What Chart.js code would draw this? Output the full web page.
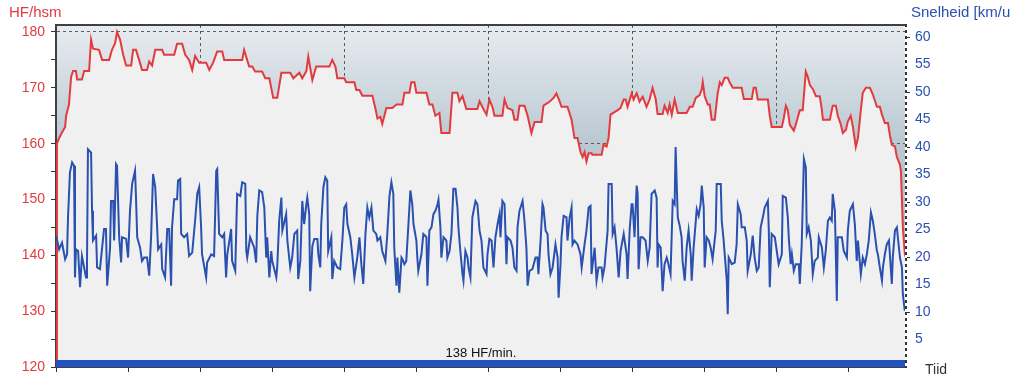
<!DOCTYPE html>
<html>
<head>
<meta charset="utf-8">
<title>HF / Snelheid</title>
<script src="https://cdn.jsdelivr.net/npm/chart.js@4.4.1/dist/chart.umd.min.js"></script>
<style>
  html, body { margin: 0; padding: 0; background: #fff; }
  #wrap { width: 1010px; height: 375px; }
</style>
</head>
<body>
<div id="wrap"><canvas id="hr-chart" width="1010" height="375"></canvas></div>
<script>
// time in seconds since start
const hrTime = [
  0, 4, 13, 25, 38, 42, 54, 63, 71, 83,
  88, 108, 117, 138, 142, 146, 154, 179, 192, 221,
  233, 246, 254, 267, 279, 292, 313, 321, 333, 346,
  358, 379, 388, 400, 413, 442, 450, 492, 504, 525,
  538, 554, 567, 579, 596, 625, 638, 654, 671, 692,
  700, 775, 783, 804, 817, 829, 858, 871, 888, 904,
  921, 938, 975, 988, 1013, 1025, 1042, 1050, 1067, 1083,
  1138, 1150, 1163, 1171, 1200, 1208, 1242, 1250, 1263, 1275,
  1317, 1329, 1338, 1350, 1358, 1375, 1400, 1417, 1442, 1450,
  1471, 1479, 1492, 1500, 1542, 1554, 1567, 1579, 1596, 1604,
  1638, 1650, 1671, 1679, 1692, 1708, 1754, 1763, 1779, 1792,
  1804, 1817, 1825, 1858, 1867, 1879, 1900, 1908, 1921, 1929,
  1950, 1963, 1979, 1992, 2021, 2029, 2054, 2071, 2083, 2096,
  2104, 2129, 2146, 2158, 2171, 2183, 2192, 2200, 2208, 2217,
  2229, 2233, 2271, 2279, 2292, 2300, 2308, 2338, 2350, 2363,
  2371, 2379, 2396, 2404, 2417, 2429, 2442, 2458, 2471, 2483,
  2496, 2504, 2525, 2533, 2546, 2554, 2563, 2575, 2588, 2625,
  2638, 2650, 2663, 2679, 2688, 2692, 2700, 2713, 2721, 2729,
  2742, 2754, 2763, 2771, 2783, 2796, 2804, 2817, 2854, 2863,
  2896, 2904, 2913, 2921, 2963, 2971, 2979, 3021, 3029, 3038,
  3046, 3054, 3071, 3079, 3096, 3108, 3121, 3129, 3138, 3150,
  3163, 3179, 3188, 3192, 3221, 3233, 3246, 3254, 3267, 3275,
  3288, 3296, 3308, 3317, 3329, 3338, 3350, 3358, 3371, 3388,
  3400, 3417, 3429, 3438, 3450, 3463, 3471, 3479, 3492, 3500,
  3513, 3517, 3521, 3525, 3533, 3538
];
const hrValues = [
  120, 160, 161, 162, 163, 165, 167, 172, 173, 173,
  171.5, 171.5, 173, 173, 176, 178.6, 177, 176.8, 175, 175,
  176.8, 178, 180, 178.6, 176, 174, 174, 176.8, 176.8, 175,
  173.2, 173.2, 174.7, 174, 176.8, 176.8, 175.9, 175.9, 177.9, 177.9,
  175.9, 175, 173.2, 175.7, 174.5, 174.5, 173.2, 174.5, 176.5, 176.5,
  175, 175, 176.8, 173.8, 173.8, 172.9, 172.9, 171.7, 171.7, 168.2,
  168.2, 172.7, 172.7, 171.7, 172.7, 171.7, 173, 175.6, 171.4, 173.8,
  173.8, 175, 173.8, 171.7, 171.7, 171, 171, 169.6, 169.6, 168.6,
  168.6, 166.4, 164.5, 164.8, 163.5, 166.4, 166.4, 167, 167, 169.1,
  169.1, 171, 171, 169.1, 169.1, 167, 167, 165, 165.5, 161.9,
  161.9, 169.1, 169.1, 167.6, 168.5, 166.2, 166.2, 167.6, 166.2, 165.2,
  167.9, 166.5, 165, 165, 167.9, 166.4, 166, 164.3, 164.3, 166.8,
  166.8, 165, 161.9, 163.9, 163.9, 166.8, 167.5, 168.2, 169, 167.6,
  166.6, 166.6, 164.3, 161, 161, 158.5, 157.6, 158.5, 156.8, 158.3,
  158.3, 158, 158, 159.8, 159.5, 161, 165.2, 166, 166.4, 167.9,
  167.9, 166.6, 169, 167.9, 169, 167.5, 168.4, 166.6, 167.9, 170,
  168, 165.3, 165.3, 166.8, 165.5, 167, 165.2, 167.9, 165.5, 165.5,
  166.6, 166.6, 168.2, 168.7, 169.8, 171, 168.5, 167, 167, 164.3,
  164.3, 169, 171, 170.5, 171.8, 171.8, 171, 170, 170, 168,
  168, 170, 170, 167.9, 167.9, 165, 163, 163, 164.5, 166.8,
  166, 163.4, 162.3, 163.4, 166, 166, 172.9, 172, 170.5, 169.8,
  168.5, 168.5, 166, 164.3, 164.3, 166.8, 166.8, 165, 163.4, 161.9,
  162.5, 164, 165, 163, 159.4, 161, 166, 169.1, 170, 170,
  168.8, 166.6, 166.6, 165.2, 163.7, 163.7, 161.5, 159.8, 159.5, 157.6,
  156.2, 155, 150, 145, 140.3, 139.5
];

const speedTime = [
  0, 13, 25, 38, 46, 50, 58, 67, 75, 79,
  83, 92, 100, 108, 125, 129, 133, 146, 150, 154,
  167, 171, 183, 192, 200, 208, 213, 225, 229, 238,
  242, 250, 254, 263, 271, 275, 292, 300, 308, 317,
  329, 333, 338, 350, 358, 367, 379, 388, 396, 404,
  413, 421, 425, 438, 442, 454, 463, 471, 479, 483,
  492, 504, 508, 517, 521, 533, 546, 554, 567, 579,
  588, 596, 604, 608, 625, 629, 646, 658, 667, 671,
  679, 692, 700, 708, 713, 729, 733, 746, 754, 767,
  775, 788, 792, 796, 808, 825, 833, 838, 846, 858,
  867, 875, 879, 888, 896, 900, 917, 921, 929, 938,
  942, 958, 963, 975, 983, 992, 1004, 1008, 1017, 1025,
  1033, 1042, 1046, 1054, 1058, 1067, 1075, 1088, 1092, 1100,
  1104, 1113, 1121, 1129, 1133, 1146, 1150, 1158, 1171, 1183,
  1192, 1200, 1208, 1213, 1225, 1233, 1242, 1254, 1263, 1271,
  1279, 1288, 1296, 1304, 1313, 1321, 1333, 1338, 1350, 1358,
  1371, 1379, 1388, 1396, 1404, 1408, 1417, 1421, 1429, 1438,
  1442, 1450, 1458, 1467, 1475, 1483, 1488, 1500, 1504, 1508,
  1521, 1529, 1542, 1546, 1554, 1563, 1571, 1579, 1588, 1592,
  1600, 1604, 1613, 1625, 1629, 1638, 1646, 1654, 1663, 1671,
  1675, 1683, 1692, 1696, 1704, 1713, 1717, 1725, 1733, 1746,
  1754, 1763, 1771, 1779, 1792, 1796, 1804, 1813, 1821, 1829,
  1838, 1846, 1850, 1858, 1867, 1875, 1879, 1892, 1900, 1908,
  1917, 1921, 1929, 1942, 1950, 1958, 1963, 1971, 1983, 1996,
  2004, 2008, 2017, 2025, 2029, 2038, 2046, 2050, 2058, 2067,
  2079, 2088, 2092, 2100, 2104, 2113, 2125, 2129, 2138, 2146,
  2150, 2158, 2171, 2183, 2188, 2200, 2208, 2217, 2225, 2229,
  2242, 2250, 2258, 2271, 2275, 2283, 2296, 2300, 2313, 2317,
  2325, 2333, 2342, 2350, 2358, 2363, 2375, 2379, 2388, 2396,
  2400, 2408, 2417, 2421, 2425, 2433, 2442, 2454, 2463, 2471,
  2479, 2492, 2500, 2504, 2508, 2517, 2525, 2533, 2542, 2546,
  2558, 2567, 2575, 2579, 2588, 2596, 2604, 2608, 2617, 2625,
  2633, 2642, 2646, 2654, 2667, 2675, 2683, 2688, 2696, 2700,
  2708, 2717, 2725, 2733, 2746, 2750, 2767, 2771, 2779, 2792,
  2796, 2800, 2813, 2825, 2833, 2838, 2850, 2854, 2867, 2875,
  2879, 2892, 2900, 2908, 2917, 2925, 2933, 2942, 2950, 2963,
  2967, 2971, 2979, 2992, 3004, 3008, 3021, 3025, 3038, 3046,
  3050, 3058, 3063, 3071, 3079, 3092, 3096, 3104, 3113, 3121,
  3125, 3133, 3142, 3150, 3158, 3171, 3175, 3188, 3196, 3204,
  3213, 3221, 3229, 3233, 3242, 3250, 3254, 3271, 3279, 3292,
  3296, 3304, 3317, 3325, 3333, 3338, 3350, 3358, 3367, 3375,
  3383, 3392, 3400, 3408, 3417, 3421, 3429, 3438, 3442, 3450,
  3458, 3467, 3479, 3483, 3492, 3500, 3504, 3513, 3521, 3525,
  3533
];
const speedValues = [
  23.9, 21.4, 22.6, 19.6, 20.5, 27.2, 35.4, 37.2, 36.6, 16.3,
  21.4, 21.1, 14.5, 20.2, 16.3, 18.7, 39.6, 39.0, 28.4, 23.0,
  23.9, 18.1, 17.8, 21.7, 25.1, 25.1, 14.8, 21.7, 30.2, 30.2,
  23.0, 36.9, 36.6, 23.6, 19.0, 23.6, 23.3, 19.9, 28.4, 33.3,
  35.7, 30.8, 23.6, 21.7, 19.3, 19.9, 19.9, 16.6, 23.9, 35.1,
  32.7, 25.4, 21.4, 22.3, 17.8, 16.3, 25.1, 25.1, 14.8, 25.4,
  30.5, 30.5, 33.9, 34.2, 24.2, 23.6, 24.2, 20.2, 20.8, 26.6,
  31.5, 32.7, 25.4, 20.5, 16.3, 19.0, 20.5, 20.2, 35.7, 36.0,
  24.2, 23.6, 24.2, 16.3, 20.5, 25.1, 19.3, 17.5, 31.5, 31.1,
  33.6, 33.3, 21.1, 19.9, 23.6, 21.7, 19.0, 27.5, 32.1, 31.8,
  29.0, 19.9, 23.6, 16.3, 21.1, 19.3, 16.3, 18.4, 26.6, 30.8,
  24.8, 27.8, 23.0, 18.1, 19.9, 24.2, 24.8, 16.0, 19.3, 30.2,
  26.0, 29.6, 30.8, 27.8, 13.8, 22.0, 23.3, 23.3, 20.5, 18.1,
  26.0, 32.7, 34.5, 33.9, 21.1, 23.6, 16.0, 19.3, 18.1, 17.8,
  23.0, 29.0, 29.6, 26.0, 23.6, 20.5, 16.3, 19.9, 23.6, 18.7,
  15.1, 24.2, 29.0, 27.2, 29.0, 24.8, 24.2, 23.0, 23.6, 21.1,
  19.3, 24.2, 31.1, 33.6, 31.5, 21.7, 14.8, 19.9, 13.5, 19.9,
  19.6, 18.7, 19.3, 26.0, 32.1, 29.6, 26.0, 23.0, 19.9, 17.5,
  20.5, 24.2, 23.6, 14.8, 24.8, 25.4, 27.8, 28.4, 29.6, 30.4,
  25.4, 19.9, 23.6, 23.0, 19.9, 21.1, 24.2, 32.4, 32.4, 29.0,
  25.4, 21.1, 16.9, 15.7, 21.1, 19.9, 18.1, 16.3, 27.2, 30.2,
  29.6, 24.8, 23.0, 18.1, 16.9, 20.5, 23.3, 23.0, 18.1, 23.6,
  26.0, 27.8, 23.6, 30.2, 29.6, 18.7, 23.6, 23.0, 21.7, 18.1,
  17.5, 25.4, 28.4, 30.2, 26.6, 21.7, 14.8, 17.5, 17.8, 19.9,
  19.9, 16.9, 23.0, 29.6, 29.0, 24.8, 24.2, 20.5, 16.9, 18.1,
  22.3, 19.9, 12.6, 18.7, 23.6, 27.5, 27.2, 23.0, 27.2, 29.0,
  22.3, 23.0, 22.3, 20.5, 18.1, 22.3, 24.8, 29.0, 29.3, 16.9,
  21.7, 15.7, 18.1, 18.1, 16.3, 18.1, 24.8, 33.3, 33.3, 24.2,
  25.4, 21.7, 16.3, 21.1, 23.0, 24.2, 20.5, 16.0, 25.1, 29.6,
  29.6, 23.6, 33.0, 31.5, 17.8, 23.6, 23.6, 23.0, 19.3, 21.7,
  31.5, 32.1, 30.8, 18.1, 22.3, 21.7, 13.8, 18.7, 19.9, 19.3,
  16.9, 30.2, 29.6, 40.0, 27.2, 25.7, 23.6, 19.3, 15.7, 21.7,
  24.8, 20.5, 15.7, 21.7, 28.7, 27.5, 29.6, 33.0, 29.0, 18.1,
  23.6, 23.0, 21.7, 19.6, 24.8, 33.3, 33.3, 26.6, 23.0, 15.7,
  9.6, 19.9, 18.7, 19.0, 22.3, 29.6, 27.8, 25.4, 25.4, 23.0,
  17.5, 20.5, 23.9, 19.9, 17.5, 18.1, 25.4, 27.2, 29.0, 30.2,
  24.8, 14.5, 24.2, 23.6, 19.9, 18.7, 20.5, 31.1, 30.8, 27.2,
  23.6, 18.7, 20.5, 17.5, 18.7, 18.7, 15.1, 22.3, 37.8, 36.3,
  24.2, 25.4, 23.0, 16.9, 19.3, 19.9, 23.6, 21.7, 18.1, 21.1,
  26.6, 27.2, 26.6, 31.5, 28.4, 12.0, 23.6, 23.6, 21.1, 19.9,
  24.8, 28.4, 29.6, 26.0, 19.3, 23.0, 16.9, 19.9, 18.7, 20.5,
  23.0, 28.1, 26.6, 24.2, 21.1, 20.5, 18.1, 15.7, 18.1, 20.5,
  22.3, 23.0, 15.1, 19.9, 24.8, 25.4, 23.6, 19.9, 18.1, 13.2,
  10.2
];

const hrTicks = [120, 125, 130, 135, 140, 145, 150, 155, 160, 165, 170, 175, 180];
const speedTicks = [5, 10, 15, 20, 25, 30, 35, 40, 45, 50, 55, 60];
const timeTicks = [0, 300, 600, 900, 1200, 1500, 1800, 2100, 2400, 2700, 3000, 3300];

const avgHr = 138;
const avgHrUnit = 'HF/min.';
const hrAxisTitle = 'HF/hsm';
const speedAxisTitle = 'Snelheid [km/uur]';
const timeAxisTitle = 'Tiid';

const RED = '#e23b3f';
const BLUE = '#2a50b0';
const FONT = '"Liberation Sans", Arial, sans-serif';

Chart.defaults.font.family = FONT;

// background gradient, average band and the loose texts
const chartDecor = {
  id: 'chartDecor',
  beforeDraw(chart) {
    const { ctx, chartArea: a } = chart;
    const g = ctx.createLinearGradient(0, a.top, 0, a.bottom);
    g.addColorStop(0, '#e8ecf1');
    g.addColorStop(0.35, '#b9c8d1');
    g.addColorStop(1, '#a9bac5');
    ctx.save();
    ctx.fillStyle = g;
    ctx.fillRect(a.left, a.top, a.right - a.left, a.bottom - a.top);
    ctx.restore();
  },
  afterDatasetsDraw(chart) {
    const { ctx, chartArea: a } = chart;
    ctx.save();
    ctx.fillStyle = '#2152c2';
    ctx.fillRect(a.left, a.bottom - 7, a.right - a.left, 7);
    ctx.fillStyle = '#111';
    ctx.font = '13px ' + FONT;
    ctx.textAlign = 'center';
    ctx.fillText(avgHr + ' ' + avgHrUnit, (a.left + a.right) / 2, a.bottom - 10);
    ctx.restore();
  },
  afterDraw(chart) {
    const { ctx, chartArea: a } = chart;
    ctx.save();
    // top frame
    ctx.fillStyle = '#404040';
    ctx.fillRect(a.left - 1, a.top - 1, a.right - a.left + 1, 2);
    // right frame, dashed
    ctx.strokeStyle = '#fff';
    ctx.lineWidth = 2;
    ctx.beginPath();
    ctx.moveTo(a.right, a.top - 1);
    ctx.lineTo(a.right, a.bottom + 1);
    ctx.stroke();
    ctx.strokeStyle = '#333';
    ctx.setLineDash([3, 3]);
    ctx.stroke();
    ctx.setLineDash([]);

    ctx.font = '15px ' + FONT;
    ctx.textAlign = 'left';
    ctx.fillStyle = RED;
    ctx.fillText(hrAxisTitle, 9, 17);
    ctx.fillStyle = BLUE;
    ctx.fillText(speedAxisTitle, a.right + 5, 17);
    ctx.font = '14px ' + FONT;
    ctx.fillStyle = '#333';
    ctx.fillText(timeAxisTitle, a.right + 19, 374);
    ctx.restore();
  }
};

// keep the plot box fixed: no extra room for label overhang
function noPadding(s) {
  s.paddingTop = 0;
  s.paddingBottom = 0;
  s.paddingLeft = 0;
  s.paddingRight = 0;
}

const ctx = document.getElementById('hr-chart').getContext('2d');

new Chart(ctx, {
  type: 'line',
  data: {
    datasets: [
      {
        label: 'Snelheid',
        data: speedTime.map((t, i) => ({ x: t, y: speedValues[i] })),
        yAxisID: 'ySpeed',
        borderColor: BLUE,
        borderWidth: 2,
        pointRadius: 0,
        fill: false,
        tension: 0,
        order: 1
      },
      {
        label: 'HF',
        data: hrTime.map((t, i) => ({ x: t, y: hrValues[i] })),
        yAxisID: 'yHr',
        borderColor: RED,
        borderWidth: 2,
        pointRadius: 0,
        fill: 'start',
        backgroundColor: '#f0f0f0',
        tension: 0,
        order: 2
      }
    ]
  },
  options: {
    responsive: false,
    animation: false,
    devicePixelRatio: 1,
    layout: { padding: { top: 25, left: 0, right: 0, bottom: 0 } },
    plugins: {
      legend: { display: false },
      tooltip: { enabled: false }
    },
    scales: {
      x: {
        type: 'linear',
        min: 0,
        max: 3538,
        afterBuildTicks: s => { s.ticks = timeTicks.map(v => ({ value: v })); },
        ticks: { display: false },
        grid: {
          color: c => (c.tick && c.tick.value > 0 && c.tick.value % 600 === 0) ? '#5c5c5c' : 'rgba(0,0,0,0)',
          tickColor: '#333',
          tickLength: 5,
          lineWidth: 1,
          tickBorderDash: []
        },
        border: { color: '#404040', width: 2, dash: [3, 3] },
        afterFit: s => { s.height = 8; noPadding(s); }
      },
      yHr: {
        type: 'linear',
        position: 'left',
        min: 120,
        max: 181.25,
        afterBuildTicks: s => { s.ticks = hrTicks.map(v => ({ value: v })); },
        ticks: {
          color: RED,
          font: { size: 14 },
          padding: 6,
          callback: v => (v % 10 === 0 ? v : '')
        },
        grid: {
          color: c => (c.tick && c.tick.value > 120 && (c.tick.value - 120) % 20 === 0) ? '#5c5c5c' : 'rgba(0,0,0,0)',
          tickColor: '#333',
          tickLength: 5,
          lineWidth: 1,
          tickBorderDash: []
        },
        border: { color: '#404040', width: 2, dash: [3, 3] },
        afterFit: s => { s.width = 56; noPadding(s); }
      },
      ySpeed: {
        type: 'linear',
        position: 'right',
        min: 0,
        max: 62.2,
        afterBuildTicks: s => { s.ticks = speedTicks.map(v => ({ value: v })); },
        ticks: {
          color: BLUE,
          font: { size: 14 },
          padding: 5
        },
        grid: {
          drawOnChartArea: false,
          color: 'rgba(0,0,0,0)',
          tickColor: c => (c.tick && c.tick.value % 10 === 0) ? '#333' : 'rgba(0,0,0,0)',
          tickLength: 4,
          tickBorderDash: []
        },
        border: { display: false },
        afterFit: s => { s.width = 104; noPadding(s); }
      }
    }
  },
  plugins: [chartDecor]
});
</script>
</body>
</html>
